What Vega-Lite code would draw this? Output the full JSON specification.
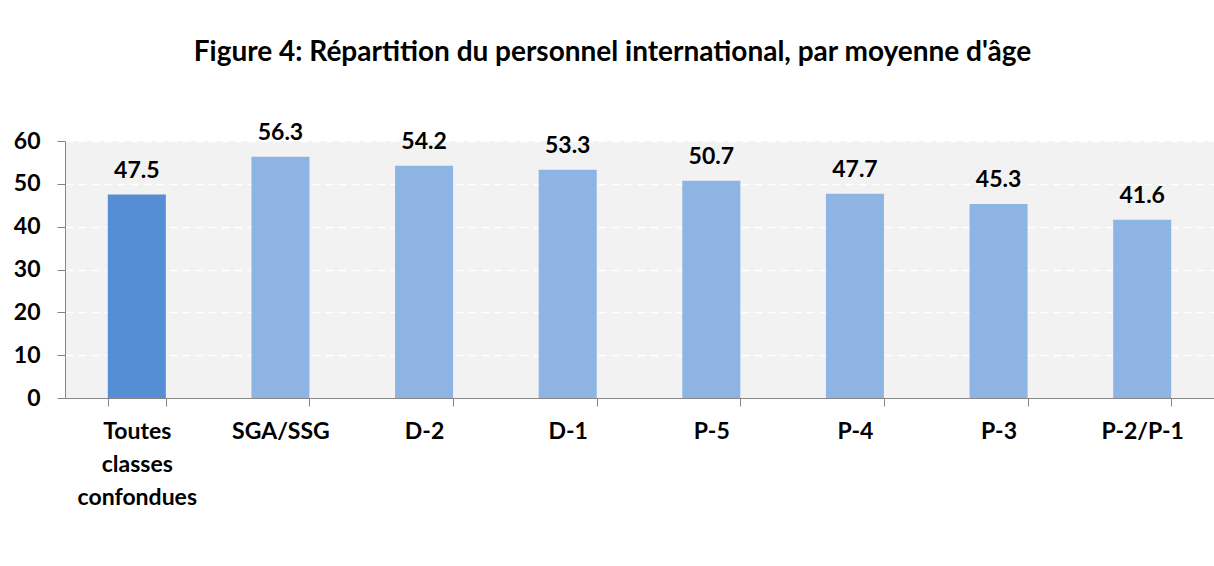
{
  "$schema": "https://vega.github.io/schema/vega-lite/v6.json",
  "width": 1149,
  "height": 257,
  "autosize": {"type": "none"},
  "padding": {"left": 65, "top": 141, "right": 0, "bottom": 168},
  "background": "white",
  "title": {
    "text": "Figure 4: Répartition du personnel international, par moyenne d'âge",
    "font": "Lato",
    "fontSize": 28,
    "fontWeight": "bold",
    "color": "#000000",
    "anchor": "middle",
    "dx": -27,
    "baseline": "alphabetic",
    "offset": 33
  },
  "data": {
    "values": [
      {"cat": "Toutes classes confondues", "age": 47.5, "grp": "total"},
      {"cat": "SGA/SSG", "age": 56.3, "grp": "grade"},
      {"cat": "D-2", "age": 54.2, "grp": "grade"},
      {"cat": "D-1", "age": 53.3, "grp": "grade"},
      {"cat": "P-5", "age": 50.7, "grp": "grade"},
      {"cat": "P-4", "age": 47.7, "grp": "grade"},
      {"cat": "P-3", "age": 45.3, "grp": "grade"},
      {"cat": "P-2/P-1", "age": 41.6, "grp": "grade"}
    ]
  },
  "encoding": {
    "x": {
      "field": "cat",
      "type": "nominal",
      "sort": null,
      "scale": {"paddingInner": 0.596, "paddingOuter": 0.298},
      "axis": {
        "title": null,
        "labelAngle": 0,
        "tickBand": "extent",
        "grid": false,
        "domainColor": "#868686",
        "tickColor": "#868686",
        "tickSize": 8,
        "labelPadding": 14,
        "labelFont": "Lato",
        "labelFontSize": 23,
        "labelFontWeight": "bold",
        "labelColor": "#000000",
        "labelLineHeight": 33,
        "labelBaseline": "top",
        "labelExpr": "datum.value == 'Toutes classes confondues' ? ['Toutes', 'classes', 'confondues'] : datum.value"
      }
    },
    "y": {
      "field": "age",
      "type": "quantitative",
      "scale": {"domain": [0, 60], "nice": false},
      "axis": {
        "title": null,
        "values": [0, 10, 20, 30, 40, 50, 60],
        "grid": true,
        "gridColor": "#FFFFFF",
        "gridDash": [8, 5],
        "gridWidth": 1.5,
        "domainColor": "#868686",
        "tickColor": "#868686",
        "tickSize": 8,
        "labelPadding": 17,
        "labelFont": "Lato",
        "labelFontSize": 23,
        "labelFontWeight": "bold",
        "labelColor": "#000000"
      }
    }
  },
  "layer": [
    {
      "mark": {"type": "bar"},
      "encoding": {
        "color": {
          "field": "grp",
          "type": "nominal",
          "scale": {"domain": ["total", "grade"], "range": ["#558ED5", "#8EB4E3"]},
          "legend": null
        }
      }
    },
    {
      "mark": {
        "type": "text",
        "baseline": "bottom",
        "dy": -12,
        "font": "Lato",
        "fontSize": 23,
        "fontWeight": "bold",
        "color": "#000000"
      },
      "encoding": {
        "text": {"field": "age", "type": "quantitative", "format": ".1f"}
      }
    }
  ],
  "config": {
    "view": {"fill": "#F2F2F2", "stroke": null}
  }
}
